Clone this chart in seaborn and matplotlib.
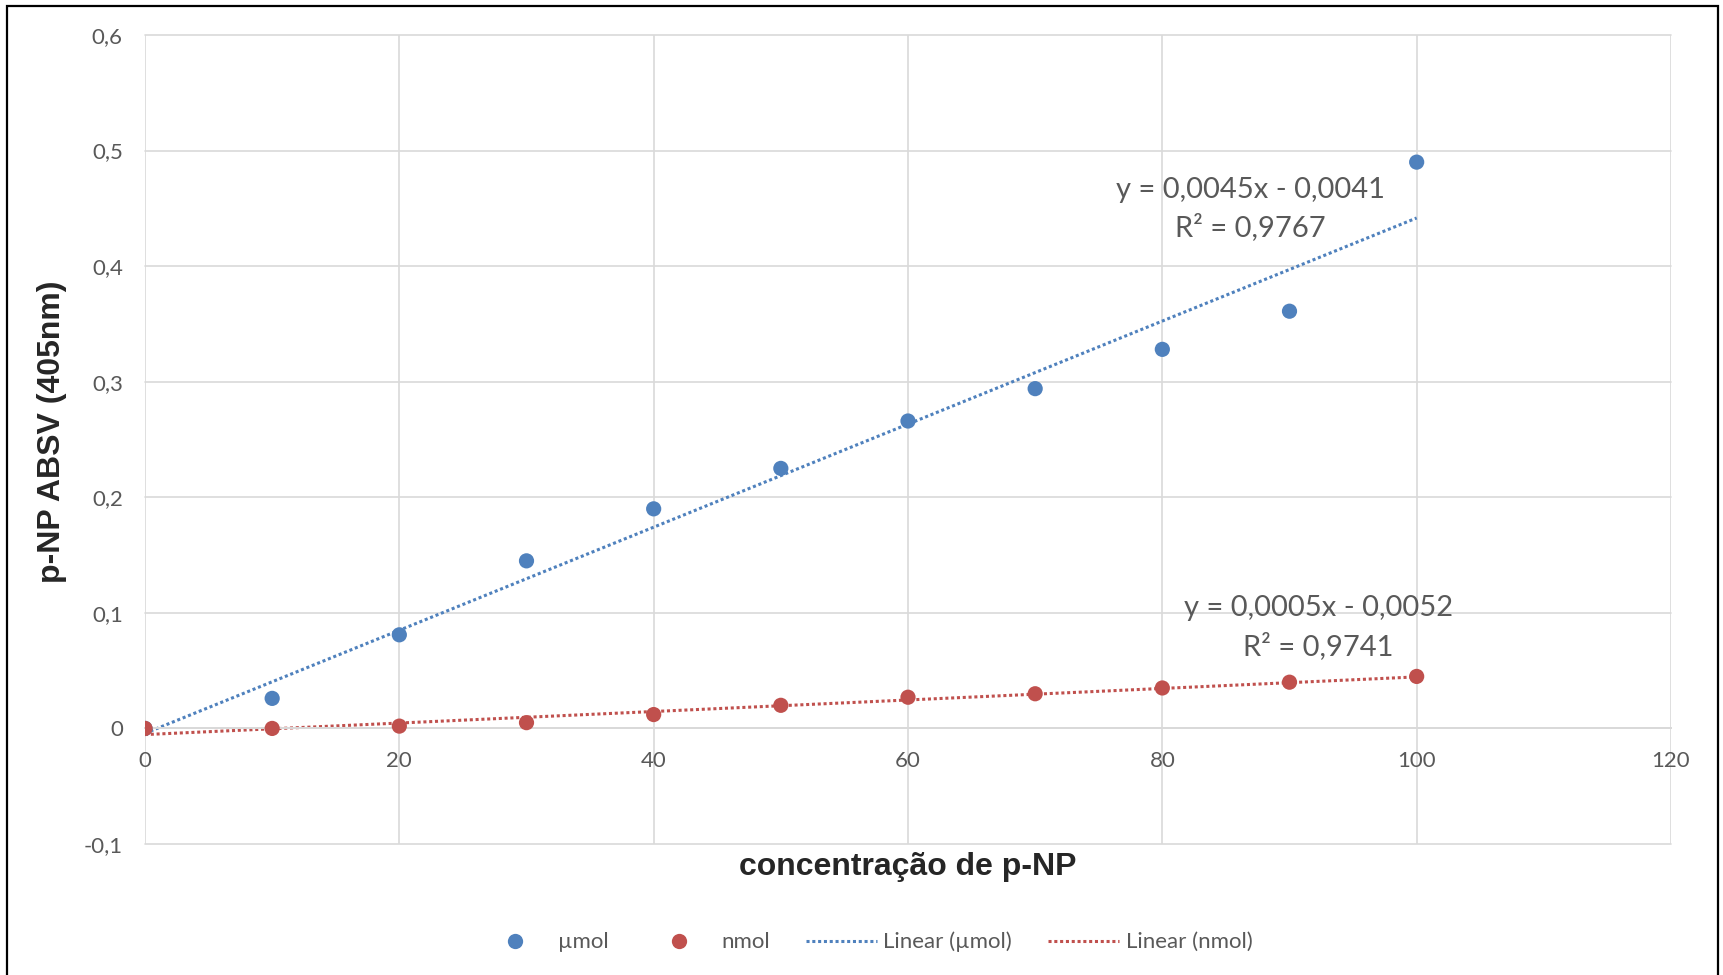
"""
Curva padrão de p-NP (µmol e nmol) com linhas de tendência lineares.
"""

import numpy as np
import pandas as pd
import matplotlib
matplotlib.use('Agg')
import matplotlib.pyplot as plt
from matplotlib.lines import Line2D
from matplotlib.patches import Rectangle
import seaborn as sns

CONC = [0, 10, 20, 30, 40, 50, 60, 70, 80, 90, 100]
ABS_UMOL = [0.0, 0.026, 0.081, 0.145, 0.190, 0.225, 0.266, 0.294, 0.328, 0.361, 0.490]
ABS_NMOL = [0.0, 0.0, 0.002, 0.005, 0.012, 0.020, 0.027, 0.030, 0.035, 0.040, 0.045]

SERIES = ['µmol', 'nmol']
COLORS = {'µmol': '#4F81BD', 'nmol': '#C0504D'}
EQ_TEXT = {
    'µmol': ('y = 0,0045x - 0,0041', 'R² = 0,9767'),
    'nmol': ('y = 0,0005x - 0,0052', 'R² = 0,9741'),
}
X_TICKS = [0, 20, 40, 60, 80, 100, 120]
Y_TICKS = [-0.1, 0, 0.1, 0.2, 0.3, 0.4, 0.5, 0.6]

GRID = '#D9D9D9'
TXT = '#595959'
DOTS = (0, (1, 0.9))


def fmt_comma(v, pos):
    if abs(v) < 1e-9:
        return '0'
    return f'{v:.1f}'.replace('.', ',')


def main():
    df = pd.DataFrame({
        'conc': CONC * 2,
        'absv': ABS_UMOL + ABS_NMOL,
        'serie': ['µmol'] * len(CONC) + ['nmol'] * len(CONC),
    })

    sns.set_style('white')
    plt.rcParams['font.family'] = ['Lato', 'DejaVu Sans']

    fig = plt.figure(figsize=(17.23, 9.75), dpi=100)
    ax = fig.add_axes([145 / 1723, 1 - 844 / 975, 1526 / 1723, 809 / 975])

    # linhas de tendência (regressão linear)
    for s in SERIES:
        sub = df[df['serie'] == s]
        sns.regplot(x='conc', y='absv', data=sub, scatter=False, ci=None,
                    truncate=True, color=COLORS[s], ax=ax,
                    line_kws=dict(ls=DOTS, lw=2.2, zorder=2))

    sns.scatterplot(x='conc', y='absv', hue='serie', hue_order=SERIES,
                    palette=COLORS, data=df, s=120, edgecolor='none',
                    legend=False, zorder=3, ax=ax)

    ax.set_xlim(0, 120)
    ax.set_ylim(-0.1, 0.6)
    ax.set_xticks(X_TICKS)
    ax.set_yticks(Y_TICKS)
    ax.yaxis.set_major_formatter(plt.FuncFormatter(fmt_comma))

    ax.grid(True, color=GRID, lw=1.2)
    ax.set_axisbelow(True)
    for gl in ax.get_xgridlines() + ax.get_ygridlines():
        gl.set_clip_on(False)

    for side in ['left', 'top', 'right']:
        ax.spines[side].set_visible(False)
    ax.spines['bottom'].set_position(('data', 0))
    ax.spines['bottom'].set_color(GRID)
    ax.spines['bottom'].set_linewidth(1.4)

    ax.tick_params(axis='both', length=0, labelsize=16, labelcolor=TXT)
    ax.tick_params(axis='y', pad=16)
    ax.tick_params(axis='x', pad=16)

    ax.set_xlabel('')
    ax.set_ylabel('')
    fig.text(908 / 1723, 1 - 867 / 975, 'concentração de p-NP',
             ha='center', va='center', fontsize=23, fontweight='bold',
             family='Liberation Sans')
    fig.text(52 / 1723, 1 - 432 / 975, 'p-NP ABSV (405nm)',
             ha='center', va='center', rotation=90, fontsize=23,
             fontweight='bold', family='Liberation Sans')

    # equações das linhas de tendência
    ax.text(86.9, 0.466, EQ_TEXT['µmol'][0], ha='center', va='center',
            fontsize=21, color=TXT)
    ax.text(86.9, 0.434, EQ_TEXT['µmol'][1], ha='center', va='center',
            fontsize=21, color=TXT)
    ax.text(92.3, 0.104, EQ_TEXT['nmol'][0], ha='center', va='center',
            fontsize=21, color=TXT)
    ax.text(92.3, 0.071, EQ_TEXT['nmol'][1], ha='center', va='center',
            fontsize=21, color=TXT)

    # legenda
    handles = [
        Line2D([], [], ls='none', marker='o', ms=11, mec='none',
               color=COLORS['µmol']),
        Line2D([], [], ls='none', marker='o', ms=11, mec='none',
               color=COLORS['nmol']),
        Line2D([], [], ls=DOTS, lw=2.2, color=COLORS['µmol']),
        Line2D([], [], ls=DOTS, lw=2.2, color=COLORS['nmol']),
    ]
    labels = ['µmol', 'nmol', 'Linear (µmol)', 'Linear (nmol)']
    leg = fig.legend(handles, labels, loc='center', ncol=4,
                     bbox_to_anchor=(866 / 1723, 1 - 942 / 975),
                     frameon=False, fontsize=16, handlelength=3.2,
                     handletextpad=0.3, columnspacing=1.6)
    for t in leg.get_texts():
        t.set_color(TXT)

    # moldura externa
    fig.add_artist(Rectangle((6.5 / 1723, -0.01), 1711.5 / 1723, 1 - 5.5 / 975 + 0.01,
                             transform=fig.transFigure, fill=False,
                             ec='black', lw=1.6))

    fig.savefig('out.png', dpi=100, facecolor='white')
    plt.close()


if __name__ == '__main__':
    main()
